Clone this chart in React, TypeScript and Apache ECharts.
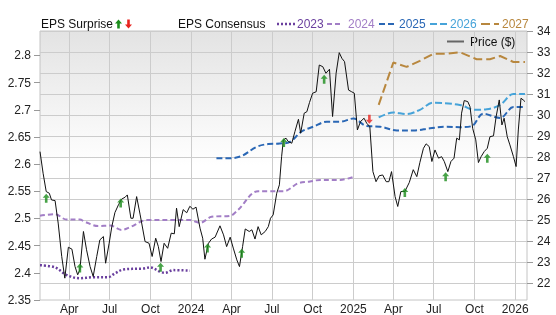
import React, { useEffect, useRef } from "react";
import * as echarts from "echarts";

const priceData: [string, number][] = [
  ["2023-01-25", 28.26], ["2023-02-01", 27.23], ["2023-02-08", 26.36], ["2023-02-15", 26.28],
  ["2023-02-20", 25.96], ["2023-02-28", 25.93], ["2023-03-07", 24.86], ["2023-03-15", 23.27],
  ["2023-03-22", 22.24], ["2023-03-30", 23.71], ["2023-04-07", 23.62], ["2023-04-14", 22.79],
  ["2023-04-20", 22.4], ["2023-04-25", 22.64], ["2023-05-03", 24.46], ["2023-05-10", 23.59],
  ["2023-05-18", 22.79], ["2023-05-25", 22.32], ["2023-06-02", 23.27], ["2023-06-09", 24.06],
  ["2023-06-17", 24.22], ["2023-06-22", 22.95], ["2023-06-30", 23.9], ["2023-07-06", 24.69],
  ["2023-07-13", 25.36], ["2023-07-21", 25.73], ["2023-07-28", 26.0], ["2023-08-05", 26.09],
  ["2023-08-10", 26.2], ["2023-08-18", 25.09], ["2023-08-23", 25.09], ["2023-08-31", 26.12],
  ["2023-09-08", 25.25], ["2023-09-19", 23.98], ["2023-09-28", 23.9], ["2023-10-05", 23.27],
  ["2023-10-13", 24.14], ["2023-10-19", 23.74], ["2023-10-25", 23.03], ["2023-11-01", 23.9],
  ["2023-11-09", 23.66], ["2023-11-17", 24.38], ["2023-11-24", 24.35], ["2023-11-29", 25.57],
  ["2023-12-05", 24.69], ["2023-12-14", 25.5], ["2023-12-22", 25.35], ["2023-12-29", 25.66],
  ["2024-01-05", 25.52], ["2024-01-12", 25.62], ["2024-01-21", 24.62], ["2024-01-27", 24.14],
  ["2024-02-01", 23.14], ["2024-02-09", 23.9], ["2024-02-16", 24.1], ["2024-02-24", 24.19],
  ["2024-03-06", 24.73], ["2024-03-14", 24.3], ["2024-03-21", 23.74], ["2024-03-29", 24.19],
  ["2024-04-05", 23.67], ["2024-04-13", 23.11], ["2024-04-19", 22.79], ["2024-04-26", 23.74],
  ["2024-05-02", 24.58], ["2024-05-11", 24.46], ["2024-05-17", 24.54], ["2024-05-24", 24.1],
  ["2024-05-31", 24.69], ["2024-06-07", 24.3], ["2024-06-16", 24.46], ["2024-06-23", 24.69],
  ["2024-06-28", 25.09], ["2024-07-04", 25.25], ["2024-07-12", 26.28], ["2024-07-18", 26.68],
  ["2024-07-23", 28.02], ["2024-07-27", 28.82], ["2024-08-02", 28.9], ["2024-08-07", 28.74],
  ["2024-08-15", 28.66], ["2024-08-22", 29.21], ["2024-08-30", 29.8], ["2024-09-04", 29.14],
  ["2024-09-12", 30.09], ["2024-09-18", 30.16], ["2024-09-24", 30.6], ["2024-10-01", 31.04],
  ["2024-10-09", 31.11], ["2024-10-16", 32.38], ["2024-10-24", 32.3], ["2024-10-31", 31.99],
  ["2024-11-08", 32.18], ["2024-11-15", 29.93], ["2024-11-23", 31.99], ["2024-11-30", 32.97],
  ["2024-12-06", 32.7], ["2024-12-12", 32.54], ["2024-12-21", 31.19], ["2024-12-28", 31.11],
  ["2025-01-03", 31.04], ["2025-01-10", 29.29], ["2025-01-17", 29.69], ["2025-01-25", 29.85],
  ["2025-01-31", 29.61], ["2025-02-07", 29.45], ["2025-02-14", 27.31], ["2025-02-21", 26.83],
  ["2025-02-28", 27.11], ["2025-03-08", 27.15], ["2025-03-16", 26.83], ["2025-03-22", 26.83],
  ["2025-03-28", 27.31], ["2025-04-05", 26.12], ["2025-04-11", 25.65], ["2025-04-18", 26.36],
  ["2025-04-27", 26.36], ["2025-05-07", 26.79], ["2025-05-16", 27.4], ["2025-05-24", 27.07],
  ["2025-05-31", 27.75], ["2025-06-08", 28.42], ["2025-06-14", 28.63], ["2025-06-21", 28.5],
  ["2025-06-27", 27.79], ["2025-07-04", 28.34], ["2025-07-12", 27.95], ["2025-07-19", 28.02],
  ["2025-07-25", 27.79], ["2025-08-02", 27.31], ["2025-08-09", 27.79], ["2025-08-16", 27.95],
  ["2025-08-22", 28.9], ["2025-08-28", 28.82], ["2025-09-02", 30.09], ["2025-09-08", 30.69],
  ["2025-09-16", 30.64], ["2025-09-21", 30.4], ["2025-09-27", 29.37], ["2025-10-04", 28.82],
  ["2025-10-10", 27.74], ["2025-10-16", 28.02], ["2025-10-23", 28.26], ["2025-10-30", 28.42],
  ["2025-11-05", 28.97], ["2025-11-13", 29.01], ["2025-11-19", 29.93], ["2025-11-26", 30.72],
  ["2025-12-02", 29.53], ["2025-12-07", 29.85], ["2025-12-14", 28.97], ["2025-12-20", 28.58],
  ["2025-12-28", 28.02], ["2026-01-03", 27.55], ["2026-01-08", 29.29], ["2026-01-14", 30.8],
  ["2026-01-19", 30.72], ["2026-01-23", 30.64],
];

const eps2023: [string, number][] = [
  ["2023-01-25", 2.414], ["2023-02-28", 2.41], ["2023-03-26", 2.396], ["2023-04-25", 2.39],
  ["2023-05-25", 2.392], ["2023-06-28", 2.392], ["2023-07-13", 2.399], ["2023-08-01", 2.406],
  ["2023-09-15", 2.408], ["2023-09-30", 2.41], ["2023-10-23", 2.402], ["2023-11-03", 2.4],
  ["2023-11-22", 2.405], ["2023-12-29", 2.404],
];

const eps2024: [string, number][] = [
  ["2023-01-25", 2.505], ["2023-02-28", 2.508], ["2023-03-26", 2.498], ["2023-04-25", 2.498],
  ["2023-05-06", 2.494], ["2023-06-05", 2.486], ["2023-07-02", 2.487], ["2023-07-28", 2.479],
  ["2023-08-16", 2.484], ["2023-09-23", 2.497], ["2023-12-29", 2.497], ["2024-01-21", 2.492],
  ["2024-02-16", 2.503], ["2024-03-29", 2.505], ["2024-04-16", 2.516], ["2024-05-31", 2.55],
  ["2024-07-27", 2.55], ["2024-08-30", 2.565], ["2024-09-25", 2.568], ["2024-10-18", 2.571],
  ["2024-12-02", 2.571], ["2024-12-30", 2.576],
];

const eps2025: [string, number][] = [
  ["2024-02-27", 2.611], ["2024-03-29", 2.611], ["2024-04-24", 2.615], ["2024-05-28", 2.632],
  ["2024-06-23", 2.637], ["2024-07-19", 2.638], ["2024-08-11", 2.641], ["2024-09-06", 2.66],
  ["2024-10-03", 2.669], ["2024-11-02", 2.678], ["2024-12-02", 2.678], ["2025-01-01", 2.684],
  ["2025-01-31", 2.67], ["2025-03-02", 2.669], ["2025-04-09", 2.662], ["2025-05-16", 2.662],
  ["2025-06-23", 2.666], ["2025-07-30", 2.669], ["2025-08-29", 2.668], ["2025-09-25", 2.67],
  ["2025-10-21", 2.693], ["2025-11-28", 2.685], ["2025-12-28", 2.705], ["2026-01-23", 2.705],
];

const eps2026: [string, number][] = [
  ["2025-02-27", 2.686], ["2025-04-01", 2.695], ["2025-05-01", 2.692], ["2025-05-31", 2.7],
  ["2025-06-30", 2.713], ["2025-08-29", 2.709], ["2025-10-02", 2.7], ["2025-10-29", 2.701],
  ["2025-11-28", 2.709], ["2025-12-28", 2.729], ["2026-01-23", 2.729],
];

const eps2027: [string, number][] = [
  ["2025-02-27", 2.709], ["2025-04-01", 2.787], ["2025-05-01", 2.779], ["2025-05-31", 2.79],
  ["2025-06-30", 2.803], ["2025-07-30", 2.803], ["2025-08-29", 2.806], ["2025-10-06", 2.793],
  ["2025-11-05", 2.793], ["2025-11-28", 2.799], ["2025-12-28", 2.788], ["2026-01-23", 2.788],
];

const surpriseUp: [string, number][] = [
  ["2023-02-08", 26.04], ["2023-04-25", 22.72], ["2023-07-26", 25.81], ["2023-10-24", 22.76],
  ["2024-02-07", 23.67], ["2024-04-24", 23.43], ["2024-07-28", 28.69], ["2024-10-27", 31.7],
  ["2025-04-27", 26.31], ["2025-07-28", 27.07], ["2025-10-30", 27.95],
];
const surpriseDown: [string, number][] = [["2025-02-06", 29.8]];

const epsTicks = [2.35, 2.4, 2.45, 2.5, 2.55, 2.6, 2.65, 2.7, 2.75, 2.8];
const priceTicks = [22, 23, 24, 25, 26, 27, 28, 29, 30, 31, 32, 33, 34];
const quarterTicks = [
  "2023-04-01", "2023-07-01", "2023-10-01", "2024-01-01", "2024-04-01", "2024-07-01",
  "2024-10-01", "2025-01-01", "2025-04-01", "2025-07-01", "2025-10-01", "2026-01-01",
];
const xStart = "2023-01-25";
const xEnd = "2026-01-27";
const monthNames = ["Jan", "Feb", "Mar", "Apr", "May", "Jun", "Jul", "Aug", "Sep", "Oct", "Nov", "Dec"];

const consensusLegend = [
  { name: "2023", color: "#6a3f9e", dash: [2, 2], width: 2.5 },
  { name: "2024", color: "#a27ec6", dash: [5, 3], width: 2 },
  { name: "2025", color: "#2a67b5", dash: [6, 3], width: 2 },
  { name: "2026", color: "#46a3d9", dash: [7, 3], width: 2 },
  { name: "2027", color: "#b8873e", dash: [9, 4], width: 2 },
];

const FONT = '"Liberation Sans", Arial, sans-serif';
const UP_PATH = "path://M3.5,0 L7,4 L4.8,4 L4.8,9 L2.2,9 L2.2,4 L0,4 Z";
const DOWN_PATH = "path://M2.2,0 L4.8,0 L4.8,5 L7,5 L3.5,9 L0,5 L2.2,5 Z";

function ts(s: string): number {
  const [y, m, d] = s.split("-").map(Number);
  return Date.UTC(y, m - 1, d);
}
function toPts(arr: [string, number][]): number[][] {
  return arr.map(([d, v]) => [ts(d), v]);
}

function arrowPoints(cx: number, cy: number, up: boolean): number[][] {
  const s = up ? 1 : -1;
  return [
    [cx, cy - 4.5 * s], [cx + 3.5, cy - 0.5 * s], [cx + 1.3, cy - 0.5 * s],
    [cx + 1.3, cy + 4.5 * s], [cx - 1.3, cy + 4.5 * s], [cx - 1.3, cy - 0.5 * s],
    [cx - 3.5, cy - 0.5 * s],
  ];
}

export default function App() {
  const ref = useRef<HTMLDivElement>(null);
  useEffect(() => {
    if (!ref.current) return;
    const chart = echarts.init(ref.current, undefined, { renderer: "svg" });
    const epsSeries = [eps2023, eps2024, eps2025, eps2026, eps2027].map((d, i) => ({
      type: "line",
      name: consensusLegend[i].name,
      xAxisIndex: 0,
      yAxisIndex: 0,
      data: toPts(d),
      showSymbol: false,
      smooth: i === 4 ? false : 0.35,
      lineStyle: {
        color: consensusLegend[i].color,
        width: consensusLegend[i].width,
        type: consensusLegend[i].dash,
        cap: "butt",
      },
      z: 2,
    }));

    const legendX = [
      { line: [277, 295], text: 297 },
      { line: [327, 343], text: 348 },
      { line: [379, 397], text: 399 },
      { line: [430, 448], text: 450 },
      { line: [481, 499], text: 502 },
    ];
    const graphic: any[] = [
      { type: "text", x: 41, y: 24, style: { text: "EPS Surprise", fill: "#111", font: `12px ${FONT}`, verticalAlign: "middle" } },
      { type: "polygon", shape: { points: arrowPoints(118.5, 24, true) }, style: { fill: "#1a8c1a" } },
      { type: "polygon", shape: { points: arrowPoints(128.5, 24, false) }, style: { fill: "#e8231e" } },
      { type: "text", x: 178, y: 24, style: { text: "EPS Consensus", fill: "#111", font: `12px ${FONT}`, verticalAlign: "middle" } },
      { type: "line", shape: { x1: 447, y1: 41.5, x2: 464, y2: 41.5 }, style: { stroke: "#666", lineWidth: 2 } },
      { type: "text", x: 470, y: 41.5, style: { text: "Price ($)", fill: "#111", font: `12px ${FONT}`, verticalAlign: "middle" } },
    ];
    consensusLegend.forEach((c, i) => {
      graphic.push({
        type: "line",
        shape: { x1: legendX[i].line[0], y1: 24, x2: legendX[i].line[1], y2: 24 },
        style: { stroke: c.color, lineWidth: c.width, lineDash: c.dash },
      });
      graphic.push({
        type: "text", x: legendX[i].text, y: 24,
        style: { text: c.name, fill: c.color, font: `12px ${FONT}`, verticalAlign: "middle" },
      });
    });

    const qValues = quarterTicks.map(ts);

    chart.setOption({
      animation: false,
      textStyle: { fontFamily: FONT },
      grid: {
        left: 40, right: 29, top: 31, bottom: 15, show: true,
        borderColor: "#c4c4c4", borderWidth: 1,
        backgroundColor: new echarts.graphic.LinearGradient(0, 0, 0, 1, [
          { offset: 0, color: "#e3e3e3" },
          { offset: 0.5, color: "#ffffff" },
          { offset: 1, color: "#ffffff" },
        ]),
      },
      xAxis: {
        type: "value",
        min: ts(xStart),
        max: ts(xEnd) + 14 * 3600 * 1000,
        axisLine: { show: false },
        axisTick: { show: false, customValues: qValues },
        axisLabel: {
          customValues: qValues,
          margin: 3,
          fontSize: 12,
          color: "#222",
          fontFamily: FONT,
          formatter: (v: number) => {
            const d = new Date(v);
            return d.getUTCMonth() === 0 ? String(d.getUTCFullYear()) : monthNames[d.getUTCMonth()];
          },
        },
        splitLine: { show: true, lineStyle: { color: "#cccccc", width: 1 } },
      },
      yAxis: [
        {
          type: "value", position: "left", min: 2.35, max: 2.845,
          axisLine: { show: false },
          axisTick: { show: true, length: 6, customValues: epsTicks, lineStyle: { color: "#999" } },
          axisLabel: {
            customValues: epsTicks, margin: 9, fontSize: 12, color: "#222", fontFamily: FONT,
            formatter: (v: number) => String(parseFloat(Number(v).toFixed(2))),
          },
          splitLine: { show: false },
        },
        {
          type: "value", position: "right", min: 21.2, max: 34,
          axisLine: { show: false },
          axisTick: { show: true, length: 6, customValues: priceTicks, lineStyle: { color: "#999" } },
          axisLabel: { customValues: priceTicks, margin: 10, fontSize: 12, color: "#222", fontFamily: FONT },
          splitLine: { show: true, lineStyle: { color: "#cccccc", width: 1 } },
        },
      ],
      graphic,
      series: [
        ...epsSeries,
        {
          type: "line", name: "Price ($)", yAxisIndex: 1, data: toPts(priceData),
          showSymbol: false, lineStyle: { color: "#111", width: 1 }, z: 3,
        },
        {
          type: "scatter", name: "Surprise up", yAxisIndex: 1, data: toPts(surpriseUp),
          symbol: UP_PATH, symbolSize: [7, 9], itemStyle: { color: "#1a8c1a" }, z: 4,
        },
        {
          type: "scatter", name: "Surprise down", yAxisIndex: 1, data: toPts(surpriseDown),
          symbol: DOWN_PATH, symbolSize: [7, 9], itemStyle: { color: "#e8231e" }, z: 4,
        },
      ],
    });
    return () => chart.dispose();
  }, []);
  return <div ref={ref} style={{ position: "fixed", left: 0, top: 0, width: 556, height: 315 }} />;
}
